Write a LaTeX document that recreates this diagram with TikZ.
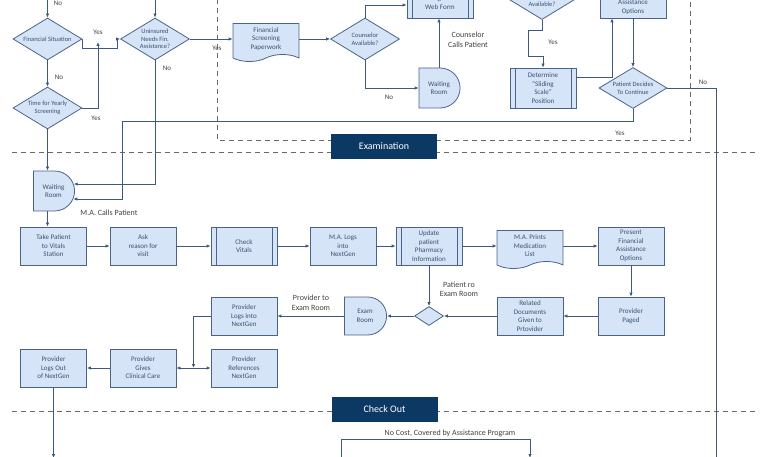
\documentclass[tikz,border=0pt]{standalone}
\usepackage{fontspec}
\setmainfont{Carlito}
\usepackage{tikz}
\usetikzlibrary{positioning,shapes.geometric,shapes.misc,shapes.symbols,arrows.meta}

\definecolor{boxfill}{RGB}{214,228,247}
\definecolor{boxline}{RGB}{74,100,135}
\definecolor{flowline}{RGB}{60,90,125}
\definecolor{boxtext}{RGB}{60,80,112}
\definecolor{headfill}{RGB}{12,56,100}
\definecolor{dashgray}{RGB}{105,105,105}

\tikzset{node distance=2cm, auto,
  process/.style={rectangle, draw=boxline, fill=boxfill, text=boxtext, line width=0.8pt,
    font=\fontsize{7}{8.5}\selectfont, align=center, inner sep=1pt,
    minimum width=66pt, minimum height=38pt},
  predef/.style={process, path picture={
    \draw[boxline, line width=0.8pt] ([xshift=5pt]path picture bounding box.north west) -- ([xshift=5pt]path picture bounding box.south west);
    \draw[boxline, line width=0.8pt] ([xshift=-5pt]path picture bounding box.north east) -- ([xshift=-5pt]path picture bounding box.south east);}},
  decision/.style={process, diamond, aspect=1.6, inner sep=-3pt, font=\fontsize{6.5}{7.7}\selectfont,
    minimum width=69pt, minimum height=42pt},
  delaybox/.style={process, rounded rectangle, rounded rectangle west arc=none, minimum width=43pt, minimum height=40pt},
  docbox/.style={process, tape, tape bend top=none, tape bend height=7pt},
  header/.style={rectangle, fill=headfill, text=white, font=\fontsize{10}{12}\selectfont,
    minimum width=106pt, minimum height=25pt},
  lbl/.style={font=\fontsize{7}{8.5}\selectfont, text=black!75, align=center, inner sep=0pt},
  biglbl/.style={lbl, font=\fontsize{8}{9.5}\selectfont},
  flow/.style={draw=flowline, line width=0.8pt},
  sep/.style={draw=dashgray, dash pattern=on 5pt off 4pt, line width=0.8pt}
}

\begin{document}
\begin{tikzpicture}[x=1pt, y=-1pt, >={Latex[length=4pt,width=3.5pt]}]
  \useasboundingbox (0,0) rectangle (768,457);

  % phases
  \draw[sep] (217,-10) rectangle (690,140);
  \draw[sep] (12,152) -- (757,152);
  \draw[sep] (12,411) -- (757,411);
  \node[header] (exam) at (384,146.5) {Examination};
  \node[header] (chkout) at (384.5,409.5) {Check Out};

  % registration
  \node[decision] (FinSit) at (47.5,39) {Financial Situation};
  \node[decision] (Yearly) at (47.5,108) {Time for Yearly\\Screening};
  \node[decision] (Uninsured) at (155,39) {Uninsured\\Needs Fin.\\Assistance?};
  \node[docbox] (Paperwork) at (266,39) {Financial\\Screening\\Paperwork};
  \node[decision] (CounselAvail) at (365,39) {Counselor\\Available?};
  \node[predef, minimum height=30pt] (WebForm) at (440,3) {Program\\Web Form};
  \node[delaybox] (WaitCouns) at (439,88) {Waiting\\Room};
  \node[decision] (ScaleAvail) at (542,-1.5) {\strut\\[3pt]Available?};
  \node[predef, minimum height=40pt] (Sliding) at (543,88) {Determine\\“Sliding\\Scale”\\Position};
  \node[process, minimum height=22pt] (AssistOpt) at (633,7) {Assistance\\Options};
  \node[decision, minimum width=68pt, minimum height=41pt] (Continue) at (633,88) {Patient Decides\\To Continue};
  \node[delaybox] (WaitRoom) at (53.5,191) {Waiting\\Room};

  \coordinate (inFin) at (47.5,-8);
  \coordinate (inUn) at (155,-8);
  \coordinate (mergeYes) at (98,42);
  \coordinate (backYes) at (122,121);
  \coordinate (exitNo) at (716,470);

  \draw[flow,->] (inFin) -- (FinSit.north);
  \draw[flow,->] (inUn) -- (Uninsured.north);
  \draw[flow,->] (FinSit.east) -- ++(0,9) -- ++(35,0) |- (Uninsured.west);
  \draw[flow,->] (Yearly.east) -| (mergeYes);
  \draw[flow,->] (FinSit.south) -- (Yearly.north);
  \draw[flow,->] (Uninsured.east) -- (Paperwork.west);
  \draw[flow,->] (Paperwork.east) -- (CounselAvail.west);
  \draw[flow,->] (CounselAvail.north) |- ([yshift=-2pt]WebForm.west);
  \draw[flow,->] (CounselAvail.south) |- (WaitCouns.west);
  \draw[flow,->] (WaitCouns.north) -- (WaitCouns.north |- WebForm.south);
  \draw[flow,->] (ScaleAvail.south) -- ++(0,11) -- ++(-14,0) -- ++(0,26) -- ++(15,0) -- (Sliding.north);
  \draw[flow,->] ([yshift=11pt]Sliding.east) -| ([xshift=-21pt]AssistOpt.south);
  \draw[flow,->] (AssistOpt.south) -- (Continue.north);
  \draw[flow] (Continue.east) -| (exitNo);
  \draw[flow,->] (Continue.south) |- (backYes) |- (WaitRoom.-22);
  \draw[flow,->] (Uninsured.south) |- (WaitRoom.19);
  \draw[flow,->] (Yearly.south) -- (Yearly.south |- WaitRoom.north);

  \node[lbl] (no0) at (58,3) {No};
  \node[lbl] (yes1) at (98,32) {Yes};
  \node[lbl] (no1) at (59,77) {No};
  \node[lbl] (yes2) at (96,118) {Yes};
  \node[lbl] (no2) at (167,68) {No};
  \node[lbl] (yes3) at (217,48) {Yes};
  \node[lbl] (no3) at (389,97) {No};
  \node[biglbl] (calls1) at (468,40) {Counselor\\Calls Patient};
  \node[lbl] (yes4) at (553,42) {Yes};
  \node[lbl] (no4) at (703,82) {No};
  \node[lbl] (yes5) at (620,133) {Yes};

  % examination
  \node[process] (TakePat) at (53.5,246) {Take Patient\\to Vitals\\Station};
  \node[process] (AskReason) at (143,246) {Ask\\reason for\\visit};
  \node[predef] (CheckVit) at (244,246) {Check\\Vitals};
  \node[process] (LogsIn) at (343,246) {M.A. Logs\\into\\NextGen};
  \node[predef] (Pharmacy) at (429,246) {Update\\patient\\Pharmacy\\Information};
  \node[docbox] (MedList) at (530,246) {M.A. Prints\\Medication\\List};
  \node[process] (PresentFin) at (631,246) {Present\\Financial\\Assistance\\Options};

  \node[process] (Paged) at (631,316) {Provider\\Paged};
  \node[process] (RelDocs) at (530,316) {Related\\Documents\\Given to\\Prtovider};
  \node[decision, inner sep=0pt, minimum width=29pt, minimum height=19pt] (Branch) at (429,316) {};
  \node[delaybox, minimum width=44pt, minimum height=38pt] (ExamRoom) at (365,316) {Exam\\Room};
  \node[process] (ProvLogIn) at (244,316) {Provider\\Logs Into\\NextGen};

  \node[process] (ProvRef) at (244,368) {Provider\\References\\NextGen};
  \node[process] (ClinCare) at (143,368) {Provider\\Gives\\Clinical Care};
  \node[process] (ProvLogOut) at (53.5,368) {Provider\\Logs Out\\of NextGen};

  \coordinate (careJoin) at (193.5,368);

  \draw[flow,->] (Yearly.south |- WaitRoom.south) -- (Yearly.south |- TakePat.north);
  \draw[flow,->] (TakePat.east) -- (AskReason.west);
  \draw[flow,->] (AskReason.east) -- (CheckVit.west);
  \draw[flow,->] (CheckVit.east) -- (LogsIn.west);
  \draw[flow,->] (LogsIn.east) -- (Pharmacy.west);
  \draw[flow,->] (Pharmacy.east) -- (MedList.west);
  \draw[flow,->] (MedList.east) -- (PresentFin.west);
  \draw[flow,->] (PresentFin.south) -- (Paged.north);
  \draw[flow,->] (Paged.west) -- (RelDocs.east);
  \draw[flow,->] (RelDocs.west) -- (Branch.east);
  \draw[flow,->] (Pharmacy.south) -- (Branch.north);
  \draw[flow,->] (Branch.west) -- (ExamRoom.east);
  \draw[flow,->] (ExamRoom.west) -- (ProvLogIn.east);
  \draw[flow,->] (ProvLogIn.west) -| (careJoin);
  \draw[flow,<->] (ClinCare.east) -- (ProvRef.west);
  \draw[flow,->] (ClinCare.west) -- (ProvLogOut.east);

  \node[biglbl] (macalls) at (109,213) {M.A. Calls Patient};
  \node[biglbl] (toexam) at (459,289.5) {Patient ro\\Exam Room};
  \node[biglbl] (provexam) at (311,303) {Provider to\\Exam Room};

  % check out
  \coordinate (outLeft) at (53.5,458);
  \coordinate (costFrom) at (341,465);
  \coordinate (costTo) at (530,458);
  \draw[flow,->] (ProvLogOut.south) -- (outLeft);
  \draw[flow,->] (costFrom) -- ++(0,-26) -| (costTo);
  \node[biglbl] (nocost) at (450,433) {No Cost, Covered by Assistance Program};

\end{tikzpicture}
\end{document}
